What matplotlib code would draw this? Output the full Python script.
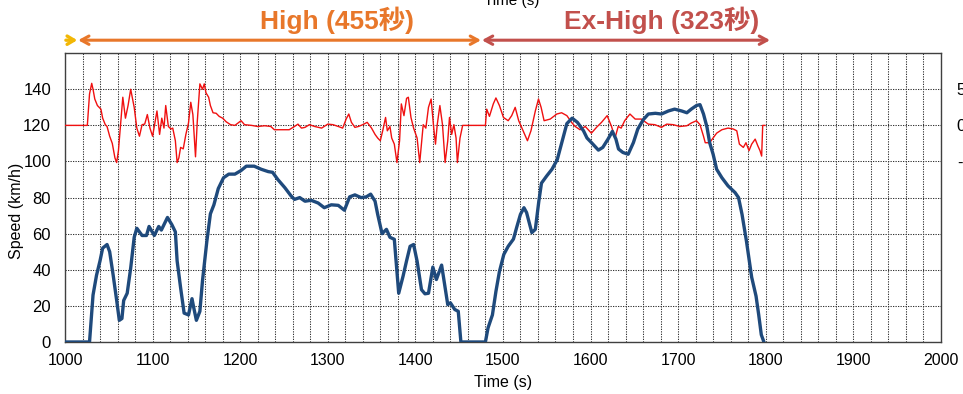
import matplotlib
matplotlib.use("Agg")
import matplotlib.pyplot as plt
from matplotlib.ticker import MultipleLocator

plt.rcParams["font.family"] = ["Liberation Sans", "Noto Sans CJK JP", "DejaVu Sans"]

# vehicle speed trace (s, km/h)
speed_t = [1000, 1028, 1032, 1036, 1040, 1043, 1048, 1051, 1055, 1059, 1062, 1065, 1067,
           1071, 1075, 1079, 1082, 1088, 1093, 1096, 1102, 1107, 1110, 1117, 1122, 1126,
           1128, 1132, 1136, 1141, 1145, 1147, 1150, 1154, 1157, 1162, 1166, 1170, 1175,
           1181, 1187, 1194, 1201, 1207, 1216, 1224, 1232, 1237, 1243, 1251, 1258, 1262,
           1268, 1274, 1281, 1289, 1296, 1304, 1312, 1319, 1325, 1331, 1338, 1344, 1349,
           1354, 1357, 1362, 1367, 1371, 1376, 1378, 1381, 1386, 1390, 1394, 1398, 1402,
           1407, 1411, 1415, 1420, 1424, 1430, 1434, 1437, 1440, 1445, 1449, 1452, 1480,
           1483, 1488, 1492, 1496, 1501, 1506, 1512, 1516, 1520, 1524, 1527, 1533, 1537,
           1541, 1544, 1550, 1556, 1562, 1568, 1573, 1579, 1585, 1592, 1596, 1601, 1609,
           1614, 1620, 1625, 1629, 1632, 1637, 1643, 1649, 1654, 1660, 1666, 1674, 1681,
           1689, 1696, 1704, 1710, 1715, 1721, 1725, 1729, 1733, 1736, 1740, 1744, 1750,
           1757, 1765, 1769, 1773, 1778, 1784, 1789, 1792, 1795, 1798]
speed_v = [0, 0, 26, 37, 45, 52, 54, 50, 37, 23, 12, 13, 23,
           27, 41, 58, 63, 59, 59, 64, 59, 64, 62, 69, 65, 61,
           45, 30, 16, 15, 24, 19, 12, 17, 34, 56, 71, 76, 85,
           91, 93, 93, 95, 97.4, 97.4, 95.7, 94.4, 94, 90, 85.5, 81, 79,
           80, 78, 78.5, 77, 74.4, 76, 75.7, 73, 80.4, 81.5, 80, 80.4, 81.9,
           78, 70.7, 60, 62.4, 58, 56.9, 44.8, 27, 36.5, 45, 53, 54, 44.8,
           29, 26.7, 27, 41.5, 34.6, 42.6, 30, 20.7, 21.7, 18, 17, 0, 0,
           7.8, 15, 28, 39, 48.5, 53, 57, 64, 70.7, 74.4, 71.7, 60.6, 62.4,
           78, 88, 92, 95.7, 101, 112, 121, 124, 121.7, 117, 113, 110.5, 106.3,
           107.8, 112.4, 116.7, 112.4, 106.9, 105, 104, 110.5, 118, 123, 126.3, 126.7, 126.3,
           128, 129, 128, 127, 129, 131, 131.5, 126.3, 119, 110.5, 104, 95.7, 91,
           86.5, 82.8, 80, 70.7, 56, 35.9, 25.4, 15.2, 4, 0]

# deviation trace, plotted on the speed scale with its zero at 120
dev_t = [1000, 1025.5, 1028, 1030.5, 1032, 1034, 1037, 1039, 1041, 1043, 1046, 1048, 1051,
         1054, 1057, 1059, 1061, 1064, 1066, 1069, 1072, 1075, 1079, 1082, 1085, 1088,
         1091, 1094, 1097, 1100, 1105, 1108, 1110.5, 1113, 1115, 1118, 1121, 1123, 1126,
         1128, 1130, 1132, 1135, 1138, 1141, 1143.6, 1146, 1149, 1151, 1154, 1157, 1159,
         1161, 1164, 1166, 1169, 1172.6, 1176, 1180, 1184, 1189, 1194, 1201, 1205, 1213,
         1220, 1228, 1235, 1239, 1247, 1256, 1262, 1266, 1270, 1274, 1279, 1285, 1293,
         1300, 1306, 1312, 1317, 1321, 1324, 1327, 1331, 1335, 1340, 1345, 1350, 1354,
         1357, 1360, 1363, 1366, 1368, 1371, 1373, 1376, 1379, 1382, 1384, 1387, 1390,
         1392, 1395, 1398, 1402, 1405, 1409, 1412, 1415, 1418, 1421, 1423, 1425, 1428,
         1431, 1434, 1437, 1439, 1441.5, 1444, 1446.5, 1448, 1451, 1454, 1480, 1481.5, 1484.6,
         1489, 1492, 1496, 1500.6, 1506, 1510, 1514, 1518, 1523, 1528, 1532, 1537, 1540.6,
         1543.6, 1547, 1554, 1561.5, 1567, 1573, 1579, 1582.5, 1588, 1594, 1601, 1607, 1612.6,
         1619, 1624, 1628, 1631.6, 1635, 1639, 1645, 1651, 1658, 1666, 1673.5, 1681, 1687,
         1694.5, 1702, 1710, 1715, 1721, 1725, 1729, 1731, 1736, 1740, 1744, 1750, 1757,
         1763, 1767, 1770, 1774.5, 1777.5, 1781, 1784, 1788, 1791, 1793.5, 1795.4, 1796.6, 1799]
dev_v = [120, 120, 137.4, 143.3, 140, 134.6, 131, 130, 129, 124, 120.4, 119.4, 114,
         110, 102, 99.4, 106, 124, 135.6, 124, 131, 140, 130, 118.5, 114, 120.4,
         120.7, 126, 118.5, 114, 128, 115, 124, 118.5, 131, 119.4, 118, 118.5, 111.5,
         99.4, 102, 107.8, 107, 115, 121.3, 132.8, 126, 102.6, 122, 143, 140, 143,
         138, 135.6, 131, 127, 126.7, 125, 124, 122, 120.4, 120, 122.6, 120.4, 120,
         119.4, 119.8, 119.4, 117.6, 117.6, 117.6, 119.4, 120.7, 118.5, 118.9, 120.4, 119.4, 118.5,
         120.7, 120.4, 119.4, 118.5, 123.5, 126.3, 121.7, 118.9, 119.4, 120.4, 121.7, 118.5, 115,
         113, 111.5, 117.6, 124.4, 117, 119.4, 113, 109.6, 99.4, 111.5, 131.9, 125.4, 135,
         135.6, 124.4, 118.5, 113, 99.4, 120.4, 118.5, 130, 134.6, 118.5, 109.6, 120.4, 131,
         120.4, 99.4, 111.5, 124.4, 115, 120.4, 113, 99.4, 113, 120, 120, 129, 125,
         131.9, 135.2, 131, 124.4, 122.6, 125.4, 130, 122.6, 117, 111.5, 117, 128, 134.6,
         130, 122.6, 123.5, 126.3, 127, 125.4, 121.3, 119.4, 117.6, 119.4, 115.7, 119, 121.7,
         125.4, 119.4, 113, 119.4, 118.5, 122.6, 126.3, 123.5, 123.5, 120.7, 120.4, 118.9, 120.7,
         120.4, 119.4, 119.8, 121.3, 122.6, 120.4, 114, 110.4, 110.4, 113, 115.7, 117.6, 118.5,
         118, 117, 109.6, 107.8, 110.4, 106, 109.6, 112.4, 108.7, 106, 103, 120, 120]

left_ticks = [0, 20, 40, 60, 80, 100, 120, 140]
right_tick_pos = [100, 120, 140]
right_tick_labels = ["-5", "0", "5"]

# phase spans (s) for the arrows above the plot
medium_end = 1014
high_span = (1015, 1475)
exhigh_span = (1476, 1805)
high_label = "High (455秒)"
exhigh_label = "Ex-High (323秒)"

ORANGE = "#E8772A"
BRICK = "#C2504C"
GOLD = "#F2B705"
NAVY = "#1F4A7C"

fig = plt.figure(figsize=(9.63, 3.94), dpi=100)
ax = fig.add_axes([0.0675, 0.132, 0.9095, 0.733])

ax.plot(dev_t, dev_v, color="#F01010", lw=1.0, zorder=3)
ax.plot(speed_t, speed_v, color=NAVY, lw=2.4, zorder=4, solid_joinstyle="round")

ax.set_xlim(1000, 2000)
ax.set_ylim(0, 160)
ax.xaxis.set_major_locator(MultipleLocator(100))
ax.xaxis.set_minor_locator(MultipleLocator(20))
ax.set_yticks(left_ticks)
ax.yaxis.set_minor_locator(MultipleLocator(20))
ax.grid(which="both", color="#333333", linestyle=(0, (1.2, 1.2)), lw=0.75)
ax.tick_params(which="both", length=0)
ax.tick_params(axis="x", labelsize=11.5, pad=8)
ax.tick_params(axis="y", labelsize=12, pad=10)
for sp in ax.spines.values():
    sp.set_color("#404040")
    sp.set_linewidth(1.0)

ax.set_xlabel("Time (s)", fontsize=11.5, labelpad=5)
ax.set_ylabel("Speed (km/h)", fontsize=11.5)
ax.yaxis.set_label_coords(-0.047, 0.455)

ax2 = ax.twinx()
ax2.set_ylim(ax.get_ylim())
ax2.set_yticks(right_tick_pos)
ax2.set_yticklabels(right_tick_labels)
ax2.tick_params(axis="y", length=0, labelsize=12, pad=11.5)
for sp in ax2.spines.values():
    sp.set_visible(False)

# phase arrows and labels above the frame
trans = ax.get_xaxis_transform()
arrow_y = 1.045
ax.annotate("", xy=(medium_end, arrow_y), xytext=(1001, arrow_y), xycoords=trans,
            textcoords=trans, annotation_clip=False,
            arrowprops=dict(arrowstyle="->,head_length=0.5,head_width=0.3", color=GOLD,
                            lw=2.4, shrinkA=0, shrinkB=0))
ax.annotate("", xy=(high_span[1], arrow_y), xytext=(high_span[0], arrow_y), xycoords=trans,
            textcoords=trans, annotation_clip=False,
            arrowprops=dict(arrowstyle="<->,head_length=0.55,head_width=0.3", color=ORANGE,
                            lw=2.2, shrinkA=0, shrinkB=0))
ax.annotate("", xy=(exhigh_span[1], arrow_y), xytext=(exhigh_span[0], arrow_y), xycoords=trans,
            textcoords=trans, annotation_clip=False,
            arrowprops=dict(arrowstyle="<->,head_length=0.55,head_width=0.3", color=BRICK,
                            lw=2.2, shrinkA=0, shrinkB=0))
ax.text(1311, 1.114, high_label, transform=trans, ha="center", va="center",
        fontsize=19, fontweight="bold", color=ORANGE, clip_on=False)
ax.text(1681, 1.114, exhigh_label, transform=trans, ha="center", va="center",
        fontsize=19, fontweight="bold", color=BRICK, clip_on=False)

# axis title of the panel above, cut by the top edge
fig.text(512 / 963, 1 - 5 / 394, "Time (s)", ha="center", va="baseline", fontsize=11)

fig.savefig("out.png", dpi=100)
